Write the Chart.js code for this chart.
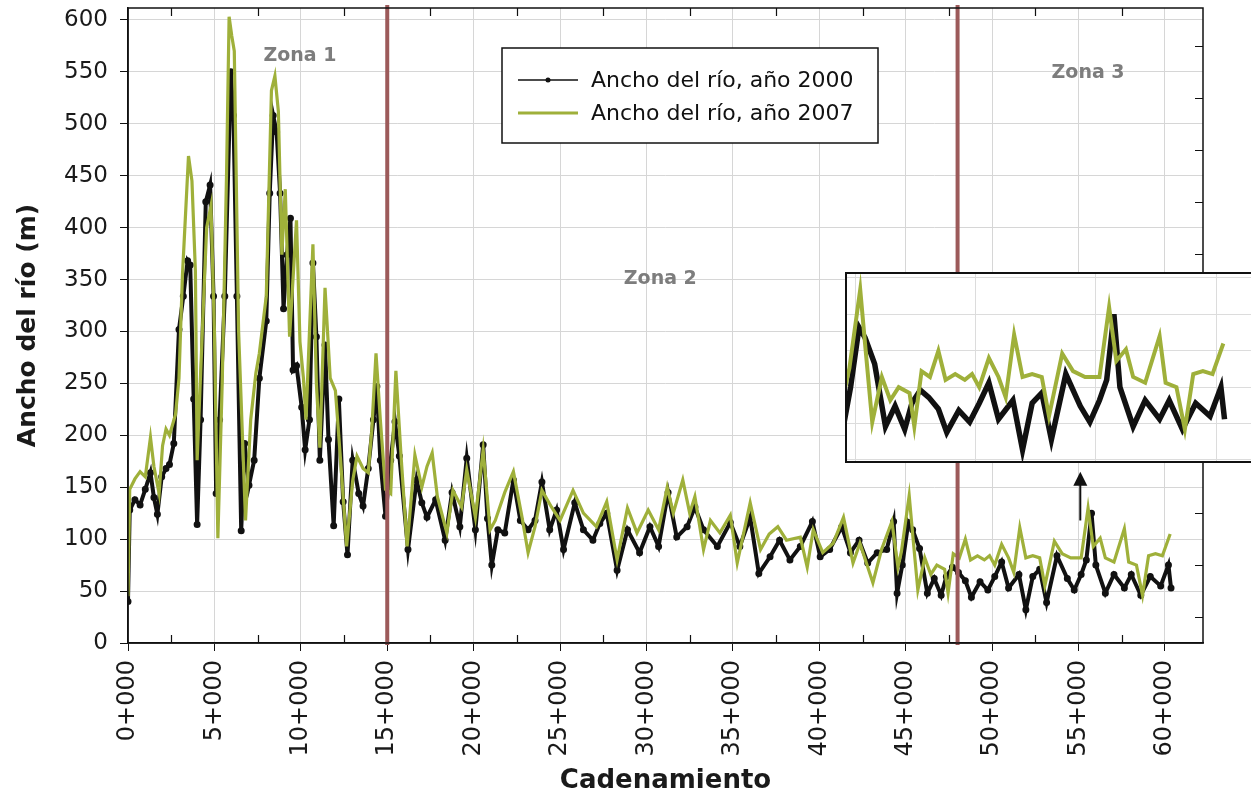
<!DOCTYPE html>
<html>
<head>
<meta charset="utf-8">
<title>Ancho del río</title>
<script src="https://cdn.jsdelivr.net/npm/chart.js@4.4.1/dist/chart.umd.min.js"></script>
<style>
  html, body { margin: 0; padding: 0; background: #fff; overflow: hidden; }
  #wrap { position: relative; width: 1251px; height: 800px; }
  #main { position: absolute; left: 0; top: 0; }
  #zoomBox { position: absolute; left: 845px; top: 272px; width: 420px; height: 191px;
             background: #fff; box-sizing: border-box; border: 2px solid #111; }
  #inset { display: block; }
</style>
</head>
<body>
<div id="wrap">
  <canvas id="main" width="1251" height="800"></canvas>
  <div id="zoomBox"><canvas id="inset" width="416" height="187"></canvas></div>
</div>
<script>
// cadenamiento (km) y ancho del río (m), levantamiento 2000
const km2000 = [0, 0.1, 0.4, 0.7, 1.0, 1.3, 1.5, 1.7, 1.95, 2.2, 2.4, 2.65, 2.95, 3.2, 3.45, 3.6, 3.8, 4.0, 4.2, 4.5,
  4.75, 4.95, 5.1, 5.3, 5.6, 5.95, 6.1, 6.3, 6.55, 6.75, 7.0, 7.3, 7.6, 8.0, 8.2, 8.4, 8.6, 8.8, 9.0, 9.2,
  9.4, 9.55, 9.75, 10.05, 10.25, 10.5, 10.7, 10.9, 11.1, 11.4, 11.6, 11.9, 12.2, 12.45, 12.7, 13.0, 13.35, 13.6, 13.9, 14.2,
  14.4, 14.6, 14.9, 15.2, 15.45, 15.7, 16.2, 16.7, 17.0, 17.3, 17.8, 18.35, 18.75, 19.2, 19.6, 20.1, 20.55, 20.8, 21.05, 21.4,
  21.8, 22.3, 22.7, 23.15, 23.55, 23.95, 24.4, 24.8, 25.2, 25.85, 26.35, 26.9, 27.3, 27.7, 28.3, 28.9, 29.6, 30.2, 30.7, 31.25,
  31.75, 32.35, 32.8, 33.3, 34.1, 34.85, 35.4, 36.0, 36.5, 37.15, 37.7, 38.3, 38.9, 39.6, 40.05, 40.6, 41.3, 41.8, 42.3, 42.8,
  43.35, 43.9, 44.3, 44.5, 44.8, 45.15, 45.4, 45.8, 46.25, 46.65, 47.05, 47.35, 47.7, 48.05, 48.45, 48.8, 49.3, 49.75, 50.15, 50.55,
  50.95, 51.55, 51.95, 52.35, 52.75, 53.15, 53.75, 54.35, 54.75, 55.15, 55.45, 55.75, 56.0, 56.55, 57.05, 57.65, 58.05, 58.6, 59.15, 59.75,
  60.2, 60.35];
const ancho2000 = [40, 128, 138, 133, 148, 164, 140, 124, 160, 168, 172, 192, 302, 334, 368, 364, 235, 114, 215, 425,
  441, 334, 144, 215, 334, 550, 508, 334, 108, 192, 152, 176, 255, 310, 433, 508, 492, 433, 322, 374,
  409, 263, 267, 227, 186, 215, 366, 295, 176, 287, 196, 113, 235, 136, 85, 176, 144, 132, 168, 215,
  247, 176, 122, 176, 213, 180, 90, 157, 135, 121, 138, 99, 145, 112, 178, 109, 191, 120, 75, 109,
  106, 157, 118, 109, 118, 155, 109, 128, 90, 135, 109, 99, 115, 125, 70, 109, 87, 112, 93, 145,
  102, 112, 131, 109, 93, 116, 93, 121, 67, 83, 99, 80, 93, 117, 83, 90, 112, 87, 99, 77,
  87, 90, 117, 48, 75, 116, 109, 91, 48, 62, 46, 64, 73, 68, 60, 44, 59, 51, 64, 78,
  53, 66, 32, 64, 71, 39, 84, 62, 51, 66, 80, 125, 75, 48, 66, 53, 66, 46, 64, 55,
  75, 53];

// cadenamiento (km) y ancho del río (m), levantamiento 2007
const km2007 = [0, 0.1, 0.4, 0.7, 1.0, 1.3, 1.5, 1.8, 2.0, 2.2, 2.4, 2.75, 2.95, 3.15, 3.5, 3.7, 3.9, 4.0, 4.3, 4.55,
  4.8, 5.0, 5.2, 5.45, 5.7, 5.85, 6.0, 6.15, 6.4, 6.8, 7.1, 7.4, 7.6, 8.0, 8.3, 8.5, 8.7, 8.9, 9.1, 9.35,
  9.75, 9.95, 10.15, 10.3, 10.5, 10.7, 10.9, 11.1, 11.4, 11.7, 12.0, 12.3, 12.65, 13.0, 13.25, 13.6, 13.9, 14.1, 14.35, 14.6,
  14.9, 15.2, 15.5, 15.8, 16.15, 16.6, 17.0, 17.3, 17.6, 17.9, 18.45, 18.8, 19.3, 19.6, 20.1, 20.55, 20.95, 21.25, 21.8, 22.3,
  22.8, 23.15, 23.55, 23.95, 24.5, 25.0, 25.75, 26.35, 27.1, 27.7, 28.3, 28.9, 29.45, 30.1, 30.7, 31.2, 31.55, 32.1, 32.5, 32.8,
  33.3, 33.7, 34.25, 34.85, 35.25, 36.0, 36.6, 37.1, 37.6, 38.1, 38.9, 39.3, 39.65, 40.2, 40.8, 41.4, 41.95, 42.35, 43.1, 43.6,
  44.2, 44.55, 44.75, 45.2, 45.4, 45.7, 46.1, 46.45, 46.8, 47.25, 47.45, 47.75, 48.1, 48.45, 48.75, 49.15, 49.55, 49.85, 50.15, 50.55,
  50.95, 51.25, 51.6, 51.95, 52.35, 52.75, 53.05, 53.6, 54.05, 54.55, 55.15, 55.55, 55.85, 56.25, 56.55, 57.05, 57.65, 57.9, 58.35, 58.7,
  59.05, 59.45, 59.85, 60.3];
const ancho2007 = [45, 148, 158, 165, 160, 198, 170, 144, 190, 206, 200, 220, 255, 354, 469, 445, 358, 176, 300, 400,
  421, 300, 101, 250, 450, 603, 585, 570, 300, 118, 215, 260, 279, 334, 532, 546, 512, 374, 437, 295,
  407, 290, 255, 215, 300, 384, 250, 188, 342, 255, 243, 176, 93, 156, 180, 168, 164, 204, 279, 215,
  148, 144, 262, 180, 93, 181, 150, 170, 183, 141, 106, 147, 131, 167, 121, 186, 109, 118, 145, 165,
  121, 87, 112, 147, 131, 118, 147, 125, 112, 136, 80, 130, 106, 128, 109, 150, 125, 157, 125, 141,
  90, 118, 106, 123, 77, 135, 90, 105, 112, 99, 102, 73, 109, 87, 96, 121, 77, 96, 58, 90,
  117, 73, 88, 142, 105, 51, 82, 66, 75, 71, 48, 86, 82, 100, 80, 84, 80, 84, 75, 95,
  82, 68, 111, 82, 84, 82, 55, 98, 86, 82, 82, 130, 93, 101, 82, 78, 110, 78, 75, 46,
  84, 86, 84, 105];

const series = ['Ancho del río, año 2000', 'Ancho del río, año 2007'];
const zoneNames = ['Zona 1', 'Zona 2', 'Zona 3'];
const zoneLimits = [15, 48];   // km where each zone ends

const GREEN = '#9fb03a';
const ZONE_RED = '#9c5a5a';
const GRID = '#d6d6d6';

Chart.defaults.font.family = '"DejaVu Sans", sans-serif';
Chart.defaults.color = '#1a1a1a';

const toPoints = (xs, ys) => xs.map((x, i) => ({x: x, y: ys[i]}));

function makeDatasets(widthBlack, widthGreen, dot) {
  return [
    {
      label: series[0],
      data: toPoints(km2000, ancho2000),
      borderColor: '#111',
      backgroundColor: '#111',
      borderWidth: widthBlack,
      pointRadius: dot,
      pointHoverRadius: dot,
      order: 1
    },
    {
      label: series[1],
      data: toPoints(km2007, ancho2007),
      borderColor: GREEN,
      backgroundColor: GREEN,
      borderWidth: widthGreen,
      pointRadius: 0,
      order: 0
    }
  ];
}

const kmLabel = v => v + '+000';

// fixed tick lists: every 2.5 km along x, every 25 m along y
function stepTicks(from, to, step) {
  const out = [];
  for (let v = from; v <= to + 1e-9; v += step) out.push({value: v});
  return out;
}

// marcos, ticks interiores, líneas de zona, leyenda, flecha
const decor = {
  id: 'decor',
  afterDatasetsDraw(chart) {
    const {ctx, chartArea: a, scales: {x}} = chart;
    ctx.save();
    ctx.strokeStyle = ZONE_RED;
    ctx.lineWidth = 4;
    zoneLimits.forEach(k => {
      const px = x.getPixelForValue(k);
      ctx.beginPath();
      ctx.moveTo(px, a.top - 3);
      ctx.lineTo(px, a.bottom + 2);
      ctx.stroke();
    });
    ctx.restore();
  },
  afterDraw(chart) {
    const {ctx, chartArea: a, scales: {x, y}} = chart;
    ctx.save();

    ctx.strokeStyle = '#111';
    ctx.lineWidth = 1.5;
    ctx.strokeRect(a.left, a.top, a.right - a.left, a.bottom - a.top);

    ctx.lineWidth = 1.2;
    ctx.beginPath();
    for (let k = 2.5; k < x.max; k += 5) {
      const px = Math.round(x.getPixelForValue(k)) + 0.5;
      ctx.moveTo(px, a.bottom); ctx.lineTo(px, a.bottom - 8);
      ctx.moveTo(px, a.top); ctx.lineTo(px, a.top + 8);
    }
    for (let v = 25; v < y.max; v += 50) {
      const py = Math.round(y.getPixelForValue(v)) + 0.5;
      ctx.moveTo(a.right, py); ctx.lineTo(a.right - 8, py);
    }
    ctx.stroke();

    // nombres de zona
    ctx.fillStyle = '#7d7d7d';
    ctx.font = 'bold 19px "DejaVu Sans"';
    ctx.textAlign = 'center';
    ctx.textBaseline = 'middle';
    const zonePos = [[9.95, 565], [30.8, 350], [55.55, 549]];
    zoneNames.forEach((name, i) => {
      ctx.fillText(name, x.getPixelForValue(zonePos[i][0]), y.getPixelForValue(zonePos[i][1]));
    });

    // leyenda
    const lx = a.left + 374, ly = a.top + 40, lw = 376, lh = 95;
    ctx.fillStyle = '#fff';
    ctx.fillRect(lx, ly, lw, lh);
    ctx.strokeStyle = '#111';
    ctx.lineWidth = 1.5;
    ctx.strokeRect(lx, ly, lw, lh);
    ctx.font = '22px "DejaVu Sans"';
    ctx.textAlign = 'left';
    chart.data.datasets.forEach((ds, i) => {
      const cy = ly + 32 + i * 33;
      ctx.strokeStyle = ds.borderColor;
      ctx.lineWidth = i === 0 ? 1.5 : 3;
      ctx.beginPath();
      ctx.moveTo(lx + 16, cy);
      ctx.lineTo(lx + 76, cy);
      ctx.stroke();
      if (i === 0) {
        ctx.fillStyle = ds.borderColor;
        ctx.beginPath();
        ctx.arc(lx + 46, cy, 2.5, 0, Math.PI * 2);
        ctx.fill();
      }
      ctx.fillStyle = '#111';
      ctx.fillText(ds.label, lx + 89, cy + 1);
    });

    // flecha hacia el detalle de la zona 3
    const ax = x.getPixelForValue(55.1);
    const y0 = y.getPixelForValue(118);
    const y1 = y.getPixelForValue(165);
    ctx.strokeStyle = '#111';
    ctx.lineWidth = 2;
    ctx.beginPath();
    ctx.moveTo(ax, y0);
    ctx.lineTo(ax, y1 + 12);
    ctx.stroke();
    ctx.fillStyle = '#111';
    ctx.beginPath();
    ctx.moveTo(ax, y1);
    ctx.lineTo(ax - 7, y1 + 14);
    ctx.lineTo(ax + 7, y1 + 14);
    ctx.closePath();
    ctx.fill();

    ctx.restore();
  }
};

new Chart(document.getElementById('main'), {
  type: 'line',
  data: {datasets: makeDatasets(4, 3.2, 1.5)},
  options: {
    responsive: false,
    animation: false,
    layout: {padding: {top: 8, right: 48, left: 0, bottom: 0}},
    plugins: {legend: {display: false}, tooltip: {enabled: false}},
    elements: {line: {tension: 0}},
    scales: {
      x: {
        type: 'linear',
        min: 0,
        max: 62.2,
        afterBuildTicks: s => { s.ticks = stepTicks(0, 60, 2.5); },
        afterFit: s => { s.height = 157; s.paddingLeft = 0; s.paddingRight = 0; },
        border: {color: '#111', width: 1.5},
        grid: {
          color: c => (c.tick && c.tick.value % 5 === 0 ? GRID : 'transparent'),
          tickColor: c => (c.tick && c.tick.value % 5 === 0 ? '#111' : 'transparent'),
          tickLength: 8
        },
        ticks: {
          autoSkip: false,
          minRotation: 90,
          maxRotation: 90,
          padding: 9,
          font: {size: 24},
          callback: v => (v % 5 === 0 ? kmLabel(v) : '')
        },
        title: {
          display: true,
          text: 'Cadenamiento',
          font: {size: 26, weight: 'bold'},
          padding: {top: 0, bottom: 3}
        }
      },
      y: {
        min: 0,
        max: 611.5,
        afterBuildTicks: s => { s.ticks = stepTicks(0, 600, 25); },
        afterFit: s => { s.width = 128; s.paddingTop = 0; s.paddingBottom = 0; },
        border: {color: '#111', width: 1.5},
        grid: {color: GRID, tickColor: '#111', tickLength: 8},
        ticks: {
          padding: 12,
          font: {size: 23},
          callback: v => (v % 50 === 0 ? v : '')
        },
        title: {
          display: true,
          text: 'Ancho del río (m)',
          font: {size: 25, weight: 'bold'},
          padding: {top: 13, bottom: 0}
        }
      }
    }
  },
  plugins: [decor]
});

// detalle ampliado de la zona 3
new Chart(document.getElementById('inset'), {
  type: 'line',
  data: {datasets: makeDatasets(5.5, 4, 0)},
  options: {
    responsive: false,
    animation: false,
    layout: {padding: 0},
    plugins: {legend: {display: false}, tooltip: {enabled: false}},
    elements: {line: {tension: 0}},
    scales: {
      x: {
        type: 'linear',
        min: 44.65,
        max: 61.95,
        afterBuildTicks: s => { s.ticks = stepTicks(45, 60, 5); },
        afterFit: s => { s.height = 0; },
        border: {display: false},
        grid: {color: '#dcdcdc', drawTicks: false},
        ticks: {display: false}
      },
      y: {
        min: 24.3,
        max: 152.7,
        afterBuildTicks: s => { s.ticks = stepTicks(25, 150, 25); },
        afterFit: s => { s.width = 0; },
        border: {display: false},
        grid: {color: '#dcdcdc', drawTicks: false},
        ticks: {display: false}
      }
    }
  }
});
</script>
</body>
</html>
